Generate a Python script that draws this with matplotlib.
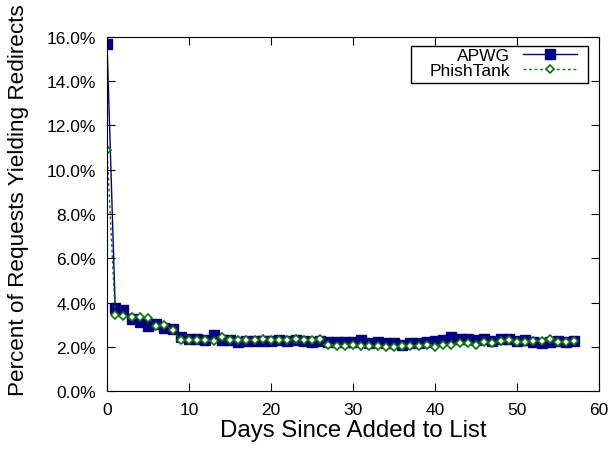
import matplotlib
matplotlib.use("Agg")
import matplotlib.pyplot as plt
from matplotlib.patches import Rectangle
from matplotlib.ticker import FuncFormatter

plt.rcParams['font.family'] = ['Liberation Sans', 'DejaVu Sans']

# dias desde que se agrego a la lista
days = list(range(58))

apwg = [15.7, 3.75, 3.65, 3.25, 3.1, 2.95, 3.05, 2.85, 2.8, 2.45,
        2.35, 2.35, 2.3, 2.55, 2.3, 2.3, 2.2, 2.25, 2.25, 2.25,
        2.25, 2.3, 2.25, 2.3, 2.25, 2.2, 2.25, 2.2, 2.2, 2.2,
        2.2, 2.3, 2.15, 2.2, 2.15, 2.15, 2.1, 2.15, 2.15, 2.2,
        2.25, 2.3, 2.45, 2.35, 2.35, 2.3, 2.35, 2.25, 2.35, 2.35,
        2.25, 2.3, 2.2, 2.15, 2.2, 2.25, 2.2, 2.25]

phishtank = [10.9, 3.45, 3.4, 3.35, 3.35, 3.3, 2.95, 3.0, 2.75, 2.3,
             2.3, 2.3, 2.3, 2.25, 2.45, 2.3, 2.3, 2.3, 2.3, 2.35,
             2.3, 2.3, 2.3, 2.35, 2.3, 2.3, 2.35, 2.1, 2.05, 2.05,
             2.1, 2.05, 2.05, 2.05, 2.0, 2.0, 2.05, 2.05, 2.05, 2.1,
             2.0, 2.1, 2.1, 2.15, 2.15, 2.1, 2.2, 2.15, 2.25, 2.3,
             2.2, 2.2, 2.25, 2.25, 2.35, 2.2, 2.2, 2.25]

fig = plt.figure(figsize=(6.13, 4.52), dpi=100)
ax = fig.add_axes([0.1746, 0.1327, 0.8025, 0.7833])

ax.plot(days, apwg, color='#000080', lw=1, marker='s', markersize=6.5,
        label='APWG')
ax.plot(days, phishtank, color='#107010', lw=1, ls=(0, (2, 2)), marker='D',
        markersize=4.5, markerfacecolor='white', markeredgewidth=1.2,
        label='PhishTank')

ax.set_xlim(0, 60)
ax.set_ylim(0, 16)
ax.set_xticks(range(0, 61, 10))
ax.set_yticks(range(0, 17, 2))
ax.yaxis.set_major_formatter(FuncFormatter(lambda v, p: f"{v:.1f}%"))
ax.tick_params(direction='in', top=True, right=True, labelsize=12.5, length=6)
ax.tick_params(axis='x', pad=8)
ax.tick_params(axis='y', pad=8)

ax.set_xlabel('Days Since Added to List', fontsize=17.3, labelpad=1)
ax.set_ylabel('Percent of Requests Yielding Redirects', fontsize=16.2)
ax.yaxis.set_label_coords(-0.159, 0.542)

# caja de la leyenda al estilo gnuplot
ax.add_patch(Rectangle((0.618, 0.870), 0.360, 0.105, transform=ax.transAxes,
                       facecolor='white', edgecolor='black', lw=1, zorder=4))
leg = ax.legend(loc='upper right', markerfirst=False, fontsize=12.5,
                frameon=False, borderpad=0, labelspacing=0.0,
                handlelength=3.1, handletextpad=0.75, borderaxespad=0,
                bbox_to_anchor=(0.955, 0.97))
leg.set_zorder(5)

plt.savefig('out.png', dpi=100)
